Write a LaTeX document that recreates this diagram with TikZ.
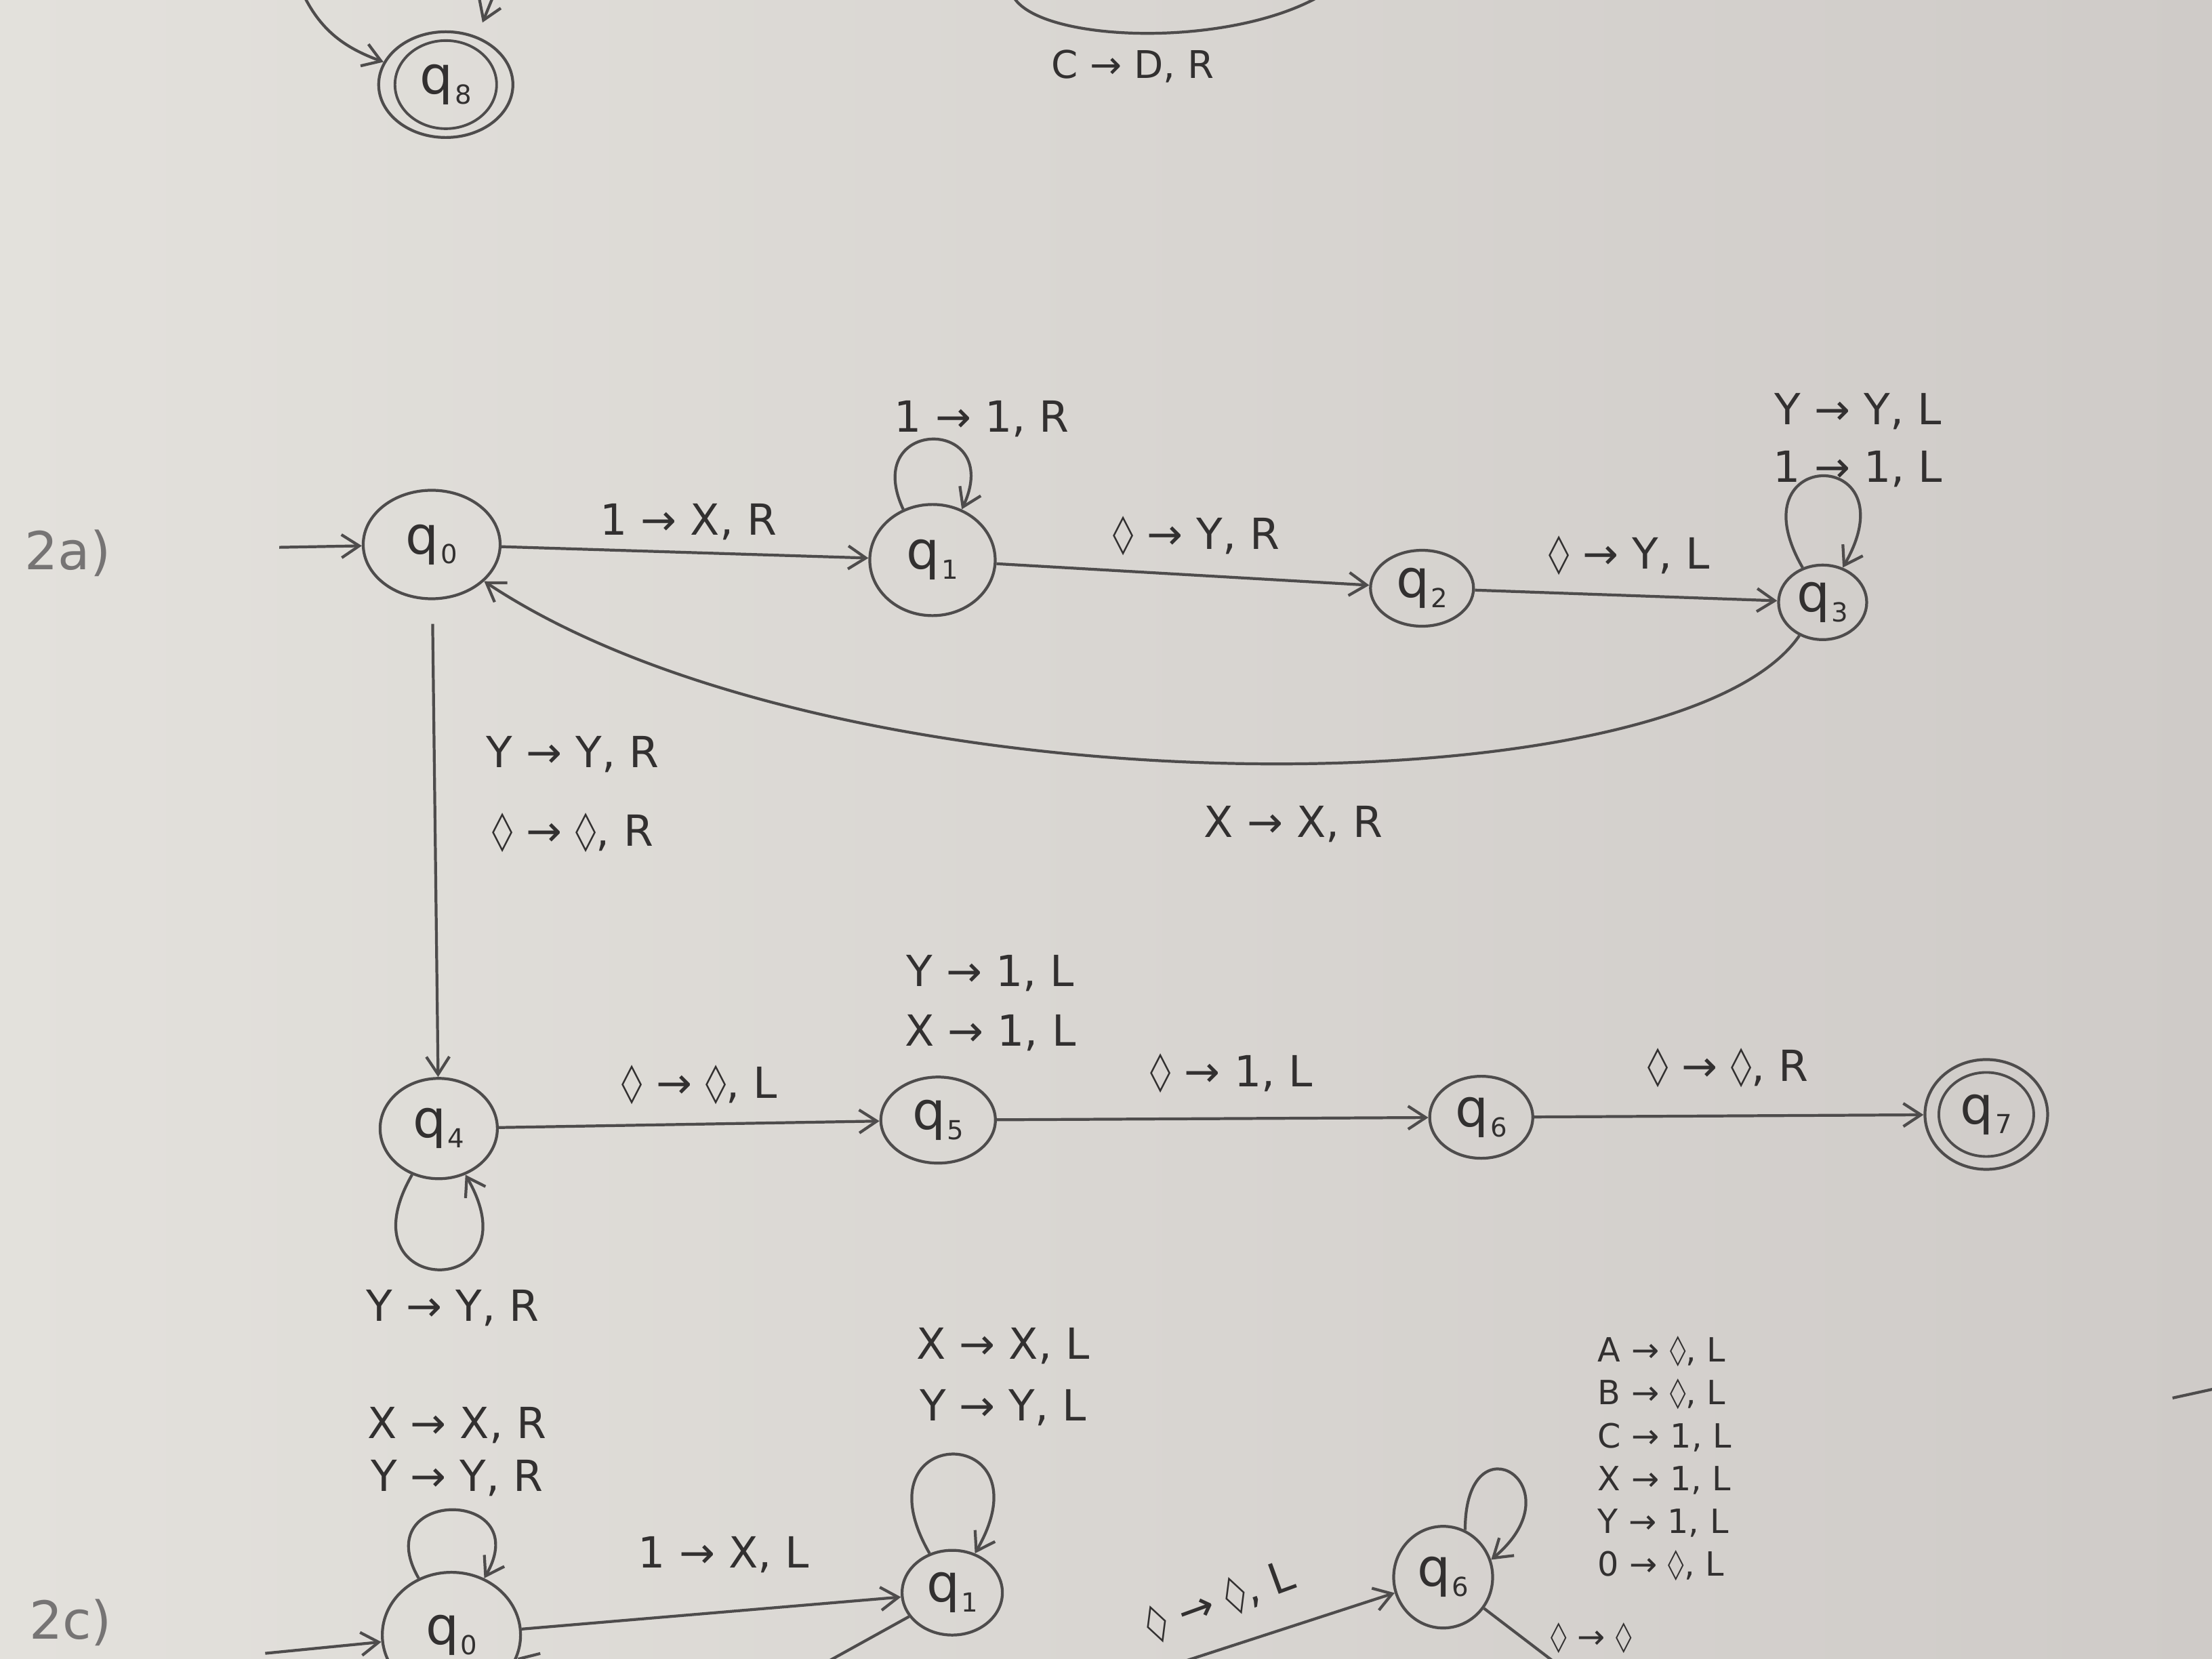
\documentclass[tikz,border=0pt]{standalone}
\usepackage{graphicx}
\usepackage{fontspec}
\setmainfont{DejaVu Sans}
\usetikzlibrary{shapes.geometric,arrows.meta,positioning}

\definecolor{paperL}{RGB}{227,225,220}
\definecolor{paperR}{RGB}{207,203,200}
\definecolor{pencil}{RGB}{78,76,76}
\definecolor{ink}{RGB}{50,48,48}
\definecolor{faint}{RGB}{118,116,116}

% state name q_i and the blank symbol
\newcommand{\qs}[1]{q\kern0.03em\raisebox{-0.35ex}{\fontsize{11}{11}\selectfont #1}}
\newcommand{\bl}{\scalebox{0.62}[1.2]{◇}}

\tikzset{
  state/.style={ellipse, draw=pencil, line width=1.2pt, inner sep=0pt, text=ink, font=\fontsize{22}{24}\selectfont},
  ring/.style={draw=pencil, line width=1.1pt},
  trans/.style={draw=pencil, line width=1.2pt, -{Straight Barb[length=2.6mm,width=3.4mm]}},
  wire/.style={draw=pencil, line width=1.2pt},
  tlabel/.style={text=ink, font=\fontsize{18}{22}\selectfont, inner sep=0pt},
  tstack/.style={tlabel, align=center, font=\fontsize{18}{#1}\selectfont},
  tcolumn/.style={tlabel, align=left, font=\fontsize{14}{18}\selectfont},
  tag/.style={text=faint, font=\fontsize{22}{24}\selectfont, inner sep=0pt}
}

\begin{document}
\begin{tikzpicture}[x=0.020816cm, y=0.020816cm]
  % paper
  \shade[left color=paperL, right color=paperR] (0,0) rectangle (1568,1176);
  \useasboundingbox (0,0) rectangle (1568,1176);

  % end of part 1 (top edge)
  \node[state, minimum width=1.98cm, minimum height=1.56cm] (q8) at (316,1116) {\qs{8}};
  \draw[ring] (q8.center) ellipse [x radius=0.75cm, y radius=0.65cm];
  \coordinate (top8a) at (214,1182);
  \coordinate (top8b) at (351,1182);
  \coordinate (tip8b) at (342,1160);
  \draw[trans] (top8a) to[out=-65,in=160] (q8);
  \draw[trans] (top8b) -- (tip8b);
  \coordinate (arcL) at (718,1179);
  \coordinate (arcR) at (936,1179);
  \draw[wire] (arcL) .. controls (735,1146) and (870,1141) .. (arcR);
  \node[tlabel, font=\fontsize{16}{18}\selectfont] (lblC) at (803,1129) {C → D, R};

  % 2a) upper row
  \node[tag] (l2a) at (48,784) {2a)};
  \node[state, minimum width=2.02cm, minimum height=1.6cm] (q0) at (306,790) {\qs{0}};
  \node[state, minimum width=1.85cm, minimum height=1.64cm] (q1) at (661,779) {\qs{1}};
  \node[state, minimum width=1.52cm, minimum height=1.12cm] (q2) at (1008,759) {\qs{2}};
  \node[state, minimum width=1.3cm, minimum height=1.1cm] (q3) at (1292,749) {\qs{3}};
  \coordinate (start0) at (198,788);
  \draw[trans] (start0) -- (q0);
  \draw[trans] (q0) -- (q1);
  \draw[trans] (q1) -- (q2);
  \draw[trans] (q2) -- (q3);
  \draw[trans] (q1.120) to[out=115,in=65,looseness=4.5] (q1.60);
  \draw[trans] (q3.120) to[out=120,in=60,looseness=9] (q3.60);
  \draw[trans] (q3.235) .. controls (1190,600) and (594,597) .. (q0.-35);
  \node[tlabel] (lbl01) at (488,806) {1 → X, R};
  \node[tlabel] (lbl11) at (696,879) {1 → 1, R};
  \node[tlabel] (lbl12) at (848,796) {\bl{} → Y, R};
  \node[tlabel] (lbl23) at (1155,782) {\bl{} → Y, L};
  \node[tstack=24pt] (lbl33) at (1317,864) {Y → Y, L\\1 → 1, L};
  \node[tlabel] (lbl30) at (917,592) {X → X, R};
  \node[tstack=33pt] (lbl04) at (406,613) {Y → Y, R\\\bl{} → \bl, R};

  % 2a) lower row
  \node[state, minimum width=1.73cm, minimum height=1.48cm] (q4) at (311,376) {\qs{4}};
  \node[state, minimum width=1.69cm, minimum height=1.27cm] (q5) at (665,382) {\qs{5}};
  \node[state, minimum width=1.52cm, minimum height=1.21cm] (q6) at (1050,384) {\qs{6}};
  \node[state, minimum width=1.81cm, minimum height=1.62cm] (q7) at (1408,386) {\qs{7}};
  \draw[ring] (q7.center) ellipse [x radius=0.7cm, y radius=0.62cm];
  \draw[trans, shorten <=0.35cm] (q0) -- (q4);
  \draw[trans] (q4) -- (q5);
  \draw[trans] (q5) -- (q6);
  \draw[trans] (q6) -- (q7);
  \draw[trans] (q4.240) to[out=240,in=300,looseness=7] (q4.300);
  \node[tlabel] (lbl45) at (496,407) {\bl{} → \bl, L};
  \node[tstack=25pt] (lbl55) at (702,465) {Y → 1, L\\X → 1, L};
  \node[tlabel] (lbl56) at (873,415) {\bl{} → 1, L};
  \node[tlabel] (lbl67) at (1225,419) {\bl{} → \bl, R};
  \node[tlabel] (lbl44) at (321,249) {Y → Y, R};

  % 2c) cut off by the bottom edge
  \node[tag] (l2c) at (50,26) {2c)};
  \node[state, minimum width=2.04cm, minimum height=1.85cm] (c0) at (320,17) {\qs{0}};
  \node[state, minimum width=1.48cm, minimum height=1.25cm] (c1) at (675,47) {\qs{1}};
  \node[state, minimum width=1.46cm, minimum height=1.5cm] (c6) at (1023,58) {\qs{6}};
  \coordinate (startc) at (188,4);
  \coordinate (c0in) at (404,-12);
  \coordinate (c1out) at (572,-10);
  \coordinate (c6in) at (826,-6);
  \coordinate (c6out) at (1112,-10);
  \draw[trans] (startc) -- (c0);
  \draw[trans] (c0) -- (c1);
  \draw[trans] (c0in) -- (c0);
  \draw[wire] (c1) -- (c1out);
  \draw[trans] (c6in) -- (c6);
  \draw[wire] (c6) -- (c6out);
  \draw[trans] (c0.120) to[out=120,in=60,looseness=4.1] (c0.60);
  \draw[trans] (c1.120) to[out=120,in=60,looseness=8.6] (c1.60);
  \draw[trans] (c6.65) to[out=90,in=40,looseness=7.5] (c6.20);
  \node[tstack=22pt] (lblc00) at (324,147) {X → X, R\\Y → Y, R};
  \node[tlabel] (lblc01) at (513,74) {1 → X, L};
  \node[tstack=26pt] (lblc11) at (711,200) {X → X, L\\Y → Y, L};
  \node[tlabel, rotate=20] (lblc56) at (865,41) {\bl{} → \bl, L};
  \node[tcolumn] (lblc66) at (1180,142) {A → \bl, L\\B → \bl, L\\C → 1, L\\X → 1, L\\Y → 1, L\\0 → \bl, L};
  \node[tlabel, font=\fontsize{14}{16}\selectfont] (lblcut) at (1128,15) {\bl{} → \bl};

  % stray stroke at the right edge
  \coordinate (edgeA) at (1540,185);
  \coordinate (edgeB) at (1572,192);
  \draw[wire] (edgeA) -- (edgeB);
\end{tikzpicture}
\end{document}
